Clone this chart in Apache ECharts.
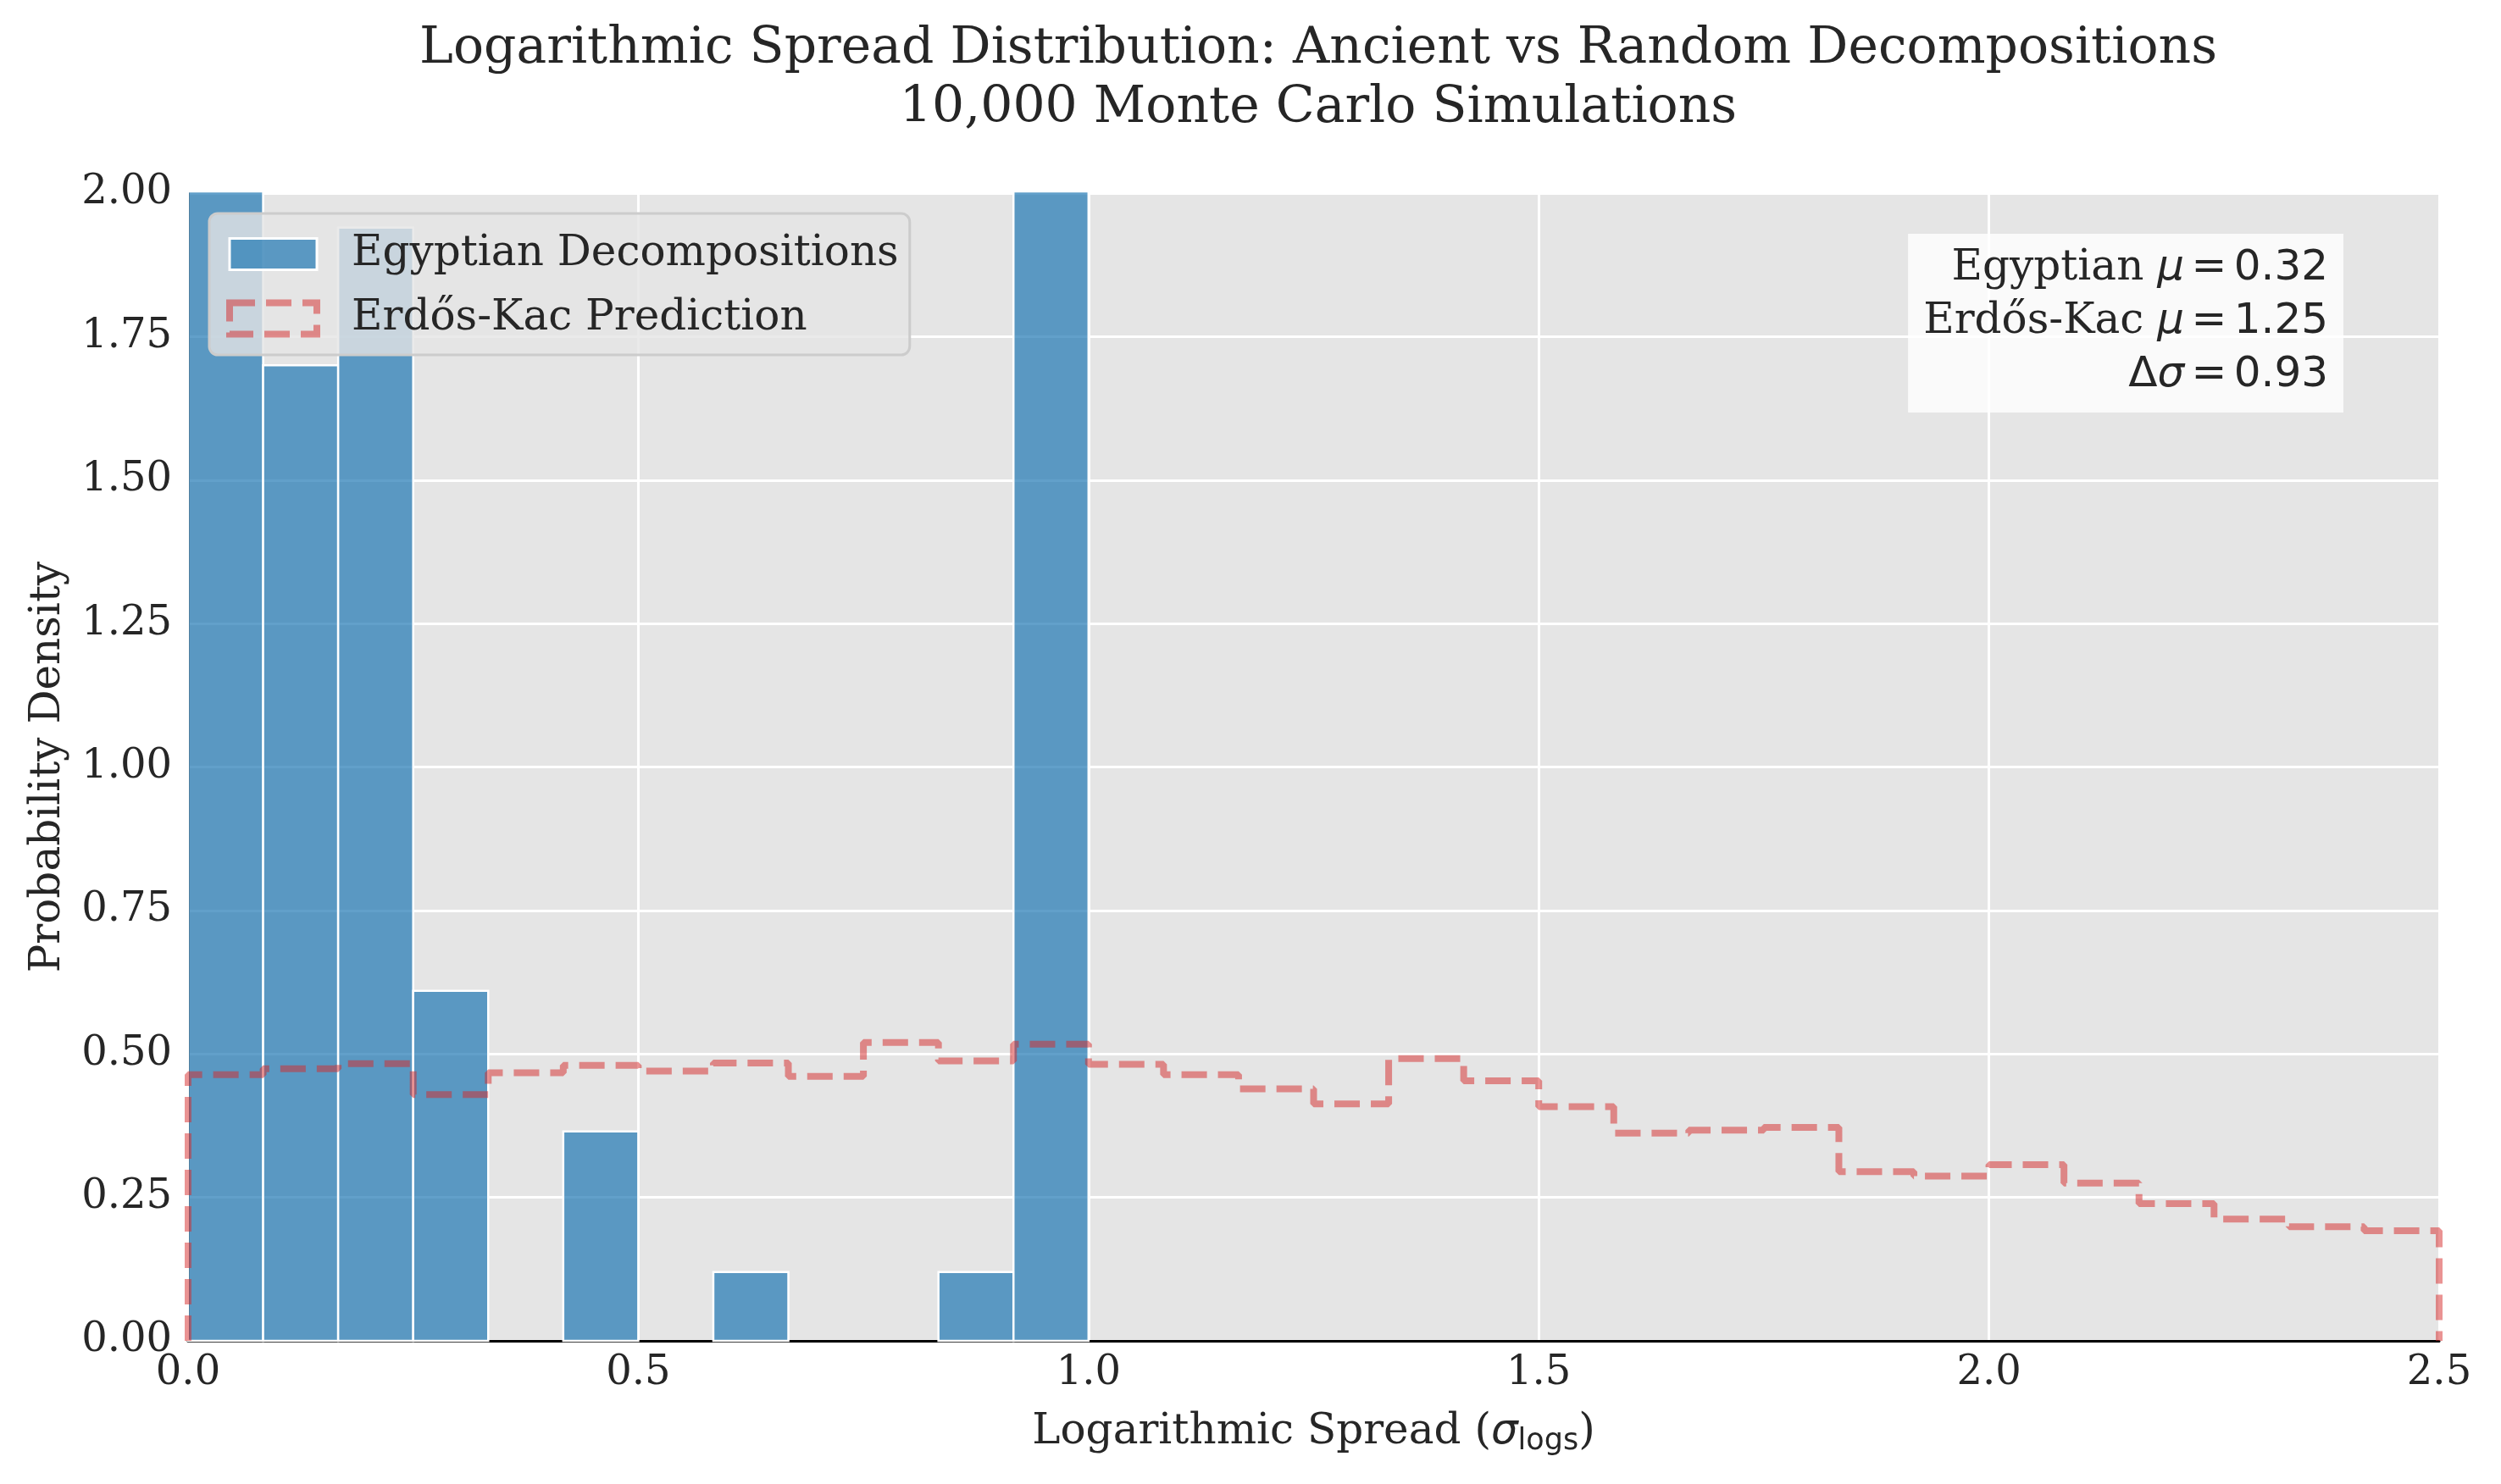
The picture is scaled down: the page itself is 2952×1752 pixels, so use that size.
<!DOCTYPE html>
<html>
<head>
<meta charset="utf-8">
<script src="https://cdn.jsdelivr.net/npm/echarts@6/dist/echarts.min.js"></script>
<style>
  html, body { margin: 0; padding: 0; background: #fff; }
  #chart { width: 2952px; height: 1752px; }
</style>
</head>
<body>
<div id="chart"></div>
<script>
// histogram bins: 1/12 wide
const binWidth = 1 / 12
// Egyptian decompositions, bins over [0, 1] (first and last run off the top)
const egyptianDensity = [2.75, 1.70, 1.94, 0.61, 0, 0.365, 0, 0.12, 0, 0, 0.12, 2.30]
// Erdős-Kac prediction, bins over [0, 2.5]
const erdosDensity = [
  0.464, 0.474, 0.483, 0.429, 0.467, 0.480, 0.470, 0.484, 0.461, 0.520,
  0.488, 0.517, 0.482, 0.464, 0.439, 0.413, 0.492, 0.453, 0.408, 0.362,
  0.367, 0.372, 0.295, 0.287, 0.307, 0.275, 0.239, 0.212, 0.199, 0.192,
]
// narrow spaces round '=' like mathtext
const statLines = [
  ['Egyptian ', 'μ', '\u2006=\u20060.32'],
  ['Erdős-Kac ', 'μ', '\u2006=\u20061.25'],
  ['', 'Δσ', '\u2006=\u20060.93'],
]

const serif = 'DejaVu Serif'
const textColor = '#262626'

// bars as [left, right, height]
const egyptianBars = egyptianDensity.map((h, i) => [i * binWidth, (i + 1) * binWidth, h])

// outline of the step histogram
const erdosPoints = [[0, 0]]
erdosDensity.forEach((v, i) => erdosPoints.push([i * binWidth, v]))
erdosPoints.push([erdosDensity.length * binWidth, erdosDensity[erdosDensity.length - 1]])
erdosPoints.push([erdosDensity.length * binWidth, 0])

const statText = statLines
  .map(([a, m, b]) => (a ? '{t|' + a + '}' : '') + (m === 'Δσ' ? '{n|Δ}{m|σ}' : '{m|' + m + '}') + '{n|' + b + '}')
  .join('\n')

const myChart = echarts.init(document.getElementById('chart'))
myChart.setOption({
  animation: false,
  backgroundColor: '#ffffff',
  title: {
    text: 'Logarithmic Spread Distribution: Ancient vs Random Decompositions\n10,000 Monte Carlo Simulations',
    left: 1551,
    top: 18,
    textAlign: 'center',
    textStyle: {
      fontFamily: serif,
      fontWeight: 'normal',
      fontSize: 60,
      lineHeight: 70,
      color: textColor,
    },
  },
  // stats box, top right of the axes
  graphic: [
    {
      type: 'text',
      right: 186,
      top: 276,
      z: 10,
      style: {
        text: statText,
        align: 'right',
        backgroundColor: 'rgba(255,255,255,0.8)',
        padding: [10, 18, 12, 18],
        lineHeight: 63,
        rich: {
          t: { align: 'right', fontFamily: serif, fontSize: 50, fill: textColor, lineHeight: 63 },
          m: { align: 'right', fontFamily: 'DejaVu Sans', fontStyle: 'italic', fontSize: 50, fill: textColor, lineHeight: 63 },
          n: { align: 'right', fontFamily: 'DejaVu Sans', fontSize: 50, fill: textColor, lineHeight: 63 },
        },
      },
    },
  ],
  legend: {
    orient: 'vertical',
    left: 247,
    top: 252,
    padding: [23, 13, 18, 20],
    itemWidth: 103,
    itemHeight: 37,
    itemGap: 26,
    backgroundColor: 'rgba(229,229,229,0.8)',
    borderColor: '#cccccc',
    borderWidth: 3,
    borderRadius: 10,
    textStyle: {
      fontFamily: serif,
      fontSize: 50,
      color: textColor,
      padding: [0, 0, 0, 36],
    },
    data: [
      {
        name: 'Egyptian Decompositions',
        icon: 'rect',
        itemStyle: { color: 'rgba(31,119,180,0.7)', borderColor: '#ffffff', borderWidth: 3 },
      },
      {
        name: 'Erdős-Kac Prediction',
        icon: 'rect',
        itemStyle: {
          color: 'rgba(0,0,0,0)',
          borderColor: 'rgba(214,39,40,0.5)',
          borderWidth: 8,
          borderType: [30, 13],
        },
      },
    ],
  },
  grid: {
    left: 222,
    right: 73,
    top: 228,
    bottom: 169,
    show: true,
    backgroundColor: '#e5e5e5',
    borderWidth: 0,
  },
  xAxis: {
    type: 'value',
    min: 0,
    max: 2.5,
    interval: 0.5,
    name: 'Logarithmic Spread ({s|σ}{sub|logs})',
    nameLocation: 'middle',
    nameGap: 108,
    nameTextStyle: {
      fontFamily: serif,
      fontSize: 50,
      color: textColor,
      verticalAlign: 'middle',
      rich: {
        s: { fontFamily: 'DejaVu Sans', fontStyle: 'italic', fontSize: 50, color: textColor },
        sub: { fontFamily: 'DejaVu Sans', fontSize: 35, color: textColor, padding: [22, 0, 0, 0] },
      },
    },
    axisLine: { show: true, lineStyle: { color: '#000000', width: 3 } },
    axisTick: { show: false },
    axisLabel: {
      margin: 15,
      fontFamily: serif,
      fontSize: 48,
      color: textColor,
      formatter: (v) => v.toFixed(1),
    },
    splitLine: { show: true, lineStyle: { color: '#ffffff', width: 3 } },
  },
  yAxis: {
    type: 'value',
    min: 0,
    max: 2,
    interval: 0.25,
    name: 'Probability Density',
    nameLocation: 'middle',
    nameGap: 140,
    nameTextStyle: { fontFamily: serif, fontSize: 50, color: textColor },
    axisLine: { show: true, lineStyle: { color: '#000000', width: 3 } },
    axisTick: { show: false },
    axisLabel: {
      margin: 19,
      fontFamily: serif,
      fontSize: 48,
      color: textColor,
      formatter: (v) => v.toFixed(2),
    },
    splitLine: { show: true, lineStyle: { color: '#ffffff', width: 3 } },
  },
  series: [
    {
      name: 'Egyptian Decompositions',
      type: 'custom',
      z: 2,
      encode: { x: [0, 1], y: 2 },
      data: egyptianBars,
      renderItem: (params, api) => {
        const h = api.value(2)
        if (!h) return null
        const p0 = api.coord([api.value(0), 0])
        const p1 = api.coord([api.value(1), h])
        const cs = params.coordSys
        const shape = echarts.graphic.clipRectByRect(
          { x: p0[0], y: p1[1], width: p1[0] - p0[0], height: p0[1] - p1[1] },
          { x: cs.x, y: cs.y - 2, width: cs.width, height: cs.height + 2 }
        )
        if (!shape) return null
        return {
          type: 'rect',
          shape: shape,
          style: { fill: 'rgba(31,119,180,0.7)', stroke: '#ffffff', lineWidth: 2.5 },
        }
      },
    },
    {
      name: 'Erdős-Kac Prediction',
      type: 'line',
      z: 3,
      step: 'end',
      symbol: 'none',
      data: erdosPoints,
      lineStyle: { color: 'rgba(214,39,40,0.5)', width: 8, type: [30, 13] },
      itemStyle: { color: 'rgba(214,39,40,0.5)' },
    },
  ],
})
</script>
</body>
</html>
